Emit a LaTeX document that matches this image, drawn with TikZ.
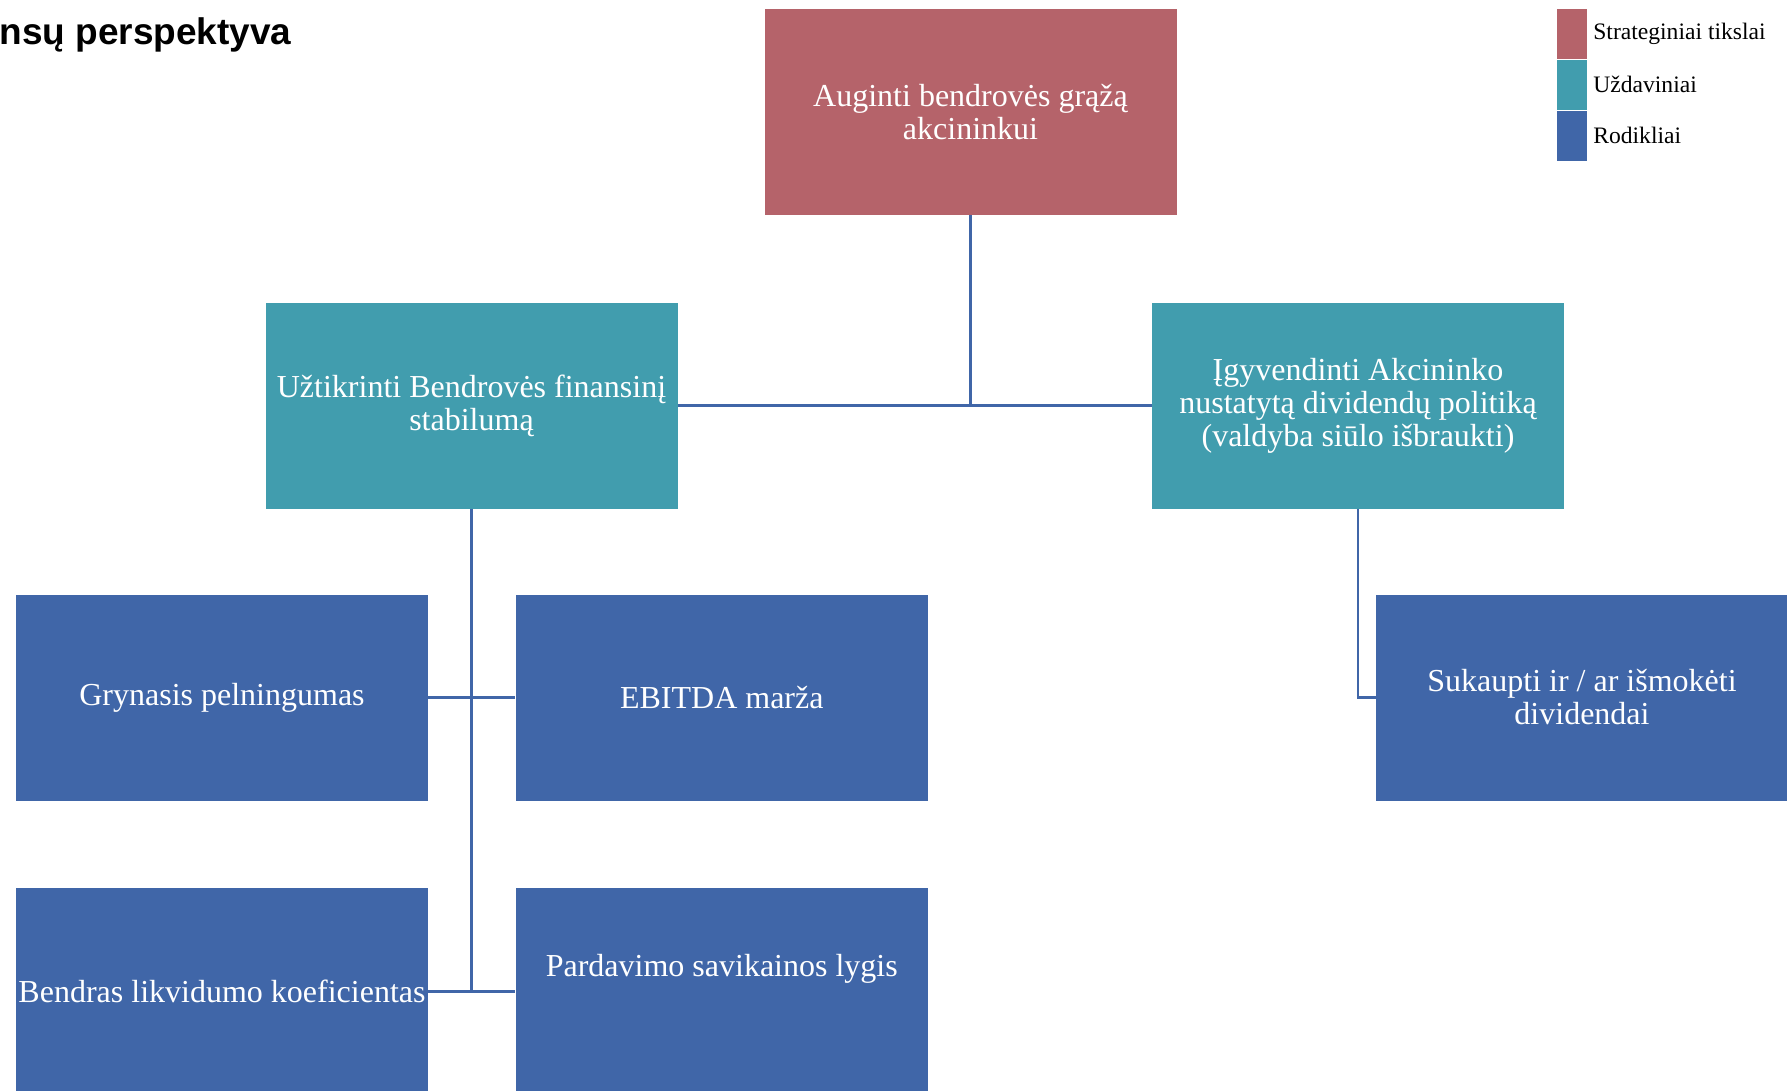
\documentclass[tikz,border=0pt]{standalone}
\usepackage{fontspec}
\setmainfont{Liberation Serif}
\newfontfamily\headfont{Liberation Sans}
\usetikzlibrary{positioning}

\definecolor{goalred}{RGB}{181,99,106}
\definecolor{taskteal}{RGB}{65,157,174}
\definecolor{kpiblue}{RGB}{64,102,168}

\tikzset{
  orgbox/.style={rectangle, minimum width=206pt, minimum height=103pt,
    inner sep=0.5pt, text=white, align=center,
    font=\fontsize{16}{16.5}\selectfont},
  goalbox/.style={orgbox, fill=goalred},
  taskbox/.style={orgbox, fill=taskteal},
  kpibox/.style={orgbox, fill=kpiblue},
  link/.style={draw=kpiblue, line width=1.25pt},
  legsq/.style={rectangle, minimum width=15pt, minimum height=25pt, inner sep=0pt},
  legtxt/.style={font=\fontsize{11.8}{12}\selectfont, inner sep=0pt}
}

\begin{document}
\begin{tikzpicture}[x=0.5pt, y=-0.5pt, node distance=43.5pt]
    \useasboundingbox (0,0) rectangle (1787,1091);

    % Title (cut at the left edge)
    \node[anchor=base west, inner sep=0pt,
          font=\headfont\bfseries\fontsize{18.5}{20}\selectfont] (title) at (-1,45) {nsų perspektyva};

    % Define nodes
    \node[goalbox]                          (goal)   at (970.5,112)  {Auginti bendrovės grąžą\\akcininkui};
    \node[taskbox]                          (fin)    at (471.5,405.5) {Užtikrinti Bendrovės finansinį\\stabilumą};
    \node[taskbox]                          (div)    at (1358,405.5)  {Įgyvendinti Akcininko\\nustatytą dividendų politiką\\(valdyba siūlo išbraukti)};
    \node[kpibox]                           (gryn)   at (222,697.5)   {Grynasis pelningumas};
    \node[kpibox, right=of gryn]            (ebitda) {EBITDA marža};
    \node[kpibox, below=of gryn]            (likv)   {Bendras likvidumo koeficientas};
    \node[kpibox, below=of ebitda, text depth=26pt] (savik) {Pardavimo savikainos lygis};
    \node[kpibox]                           (divid)  at (1582,697.5)  {Sukaupti ir / ar išmokėti\\dividendai};

    % Connect the nodes
    \draw[link] (goal) -- (goal |- fin.east);
    \draw[link] (fin) -- (div);
    \draw[link] (fin) -- (fin |- likv.east);
    \draw[link] (gryn) -- (ebitda);
    \draw[link] (likv) -- (savik);
    \draw[link] (div) |- (divid);

    % Legend
    \node[legsq, fill=goalred]                       (leg-goal) at (1571.5,34) {};
    \node[legsq, fill=taskteal, below=0pt of leg-goal] (leg-task) {};
    \node[legsq, fill=kpiblue, below=0pt of leg-task]  (leg-kpi)  {};
    \node[legtxt, right=3pt of leg-goal] (leg-goal-txt) {Strateginiai tikslai};
    \node[legtxt, right=3pt of leg-task] (leg-task-txt) {Uždaviniai};
    \node[legtxt, right=3pt of leg-kpi]  (leg-kpi-txt)  {Rodikliai};

\end{tikzpicture}
\end{document}
